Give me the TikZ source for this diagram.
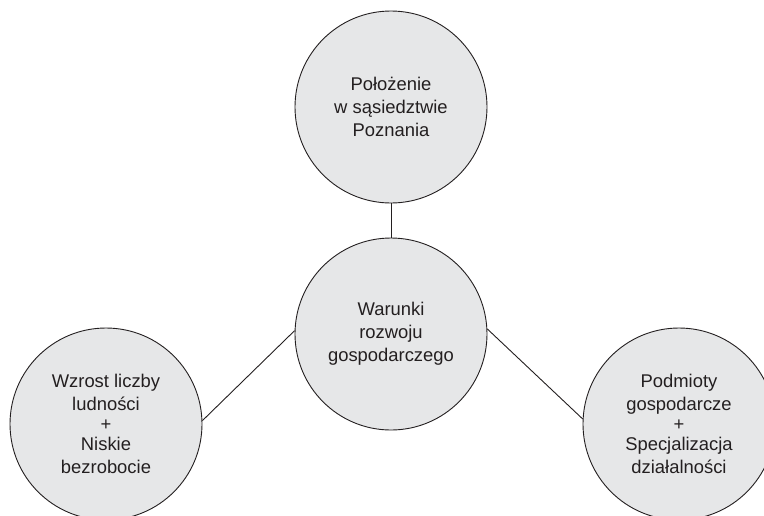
\documentclass[tikz,border=0pt]{standalone}
\usepackage{fontspec}
\setmainfont{Liberation Sans}
\definecolor{circfill}{HTML}{E6E7E8}
\definecolor{inkc}{HTML}{231F20}
\begin{document}
\begin{tikzpicture}[x=1pt,y=-1pt,
  bubble/.style={circle,draw=inkc,line width=0.9pt,fill=circfill,minimum size=192pt,inner sep=0pt,
    align=center,text=inkc,font=\fontsize{18.4}{23}\selectfont},
  link/.style={draw=inkc,line width=0.9pt}]
\useasboundingbox (0,0) rectangle (764,515);
\node[bubble] (top) at (391,107) {Położenie\\w sąsiedztwie\\Poznania};
\node[bubble] (mid) at (391,334) {Warunki\\rozwoju\\gospodarczego};
\node[bubble] (left) at (106,424) {Wzrost liczby\\ludności\\[-3pt]+\\[-3pt]Niskie\\bezrobocie};
\node[bubble] (right) at (679,424) {Podmioty\\gospodarcze\\[-3pt]+\\[-3pt]Specjalizacja\\działalności};
\draw[link] (top.south) -- (mid.north);
\draw[link] (left.2) -- (mid.178);
\draw[link] (mid.3) -- (right.177);
\end{tikzpicture}
\end{document}
